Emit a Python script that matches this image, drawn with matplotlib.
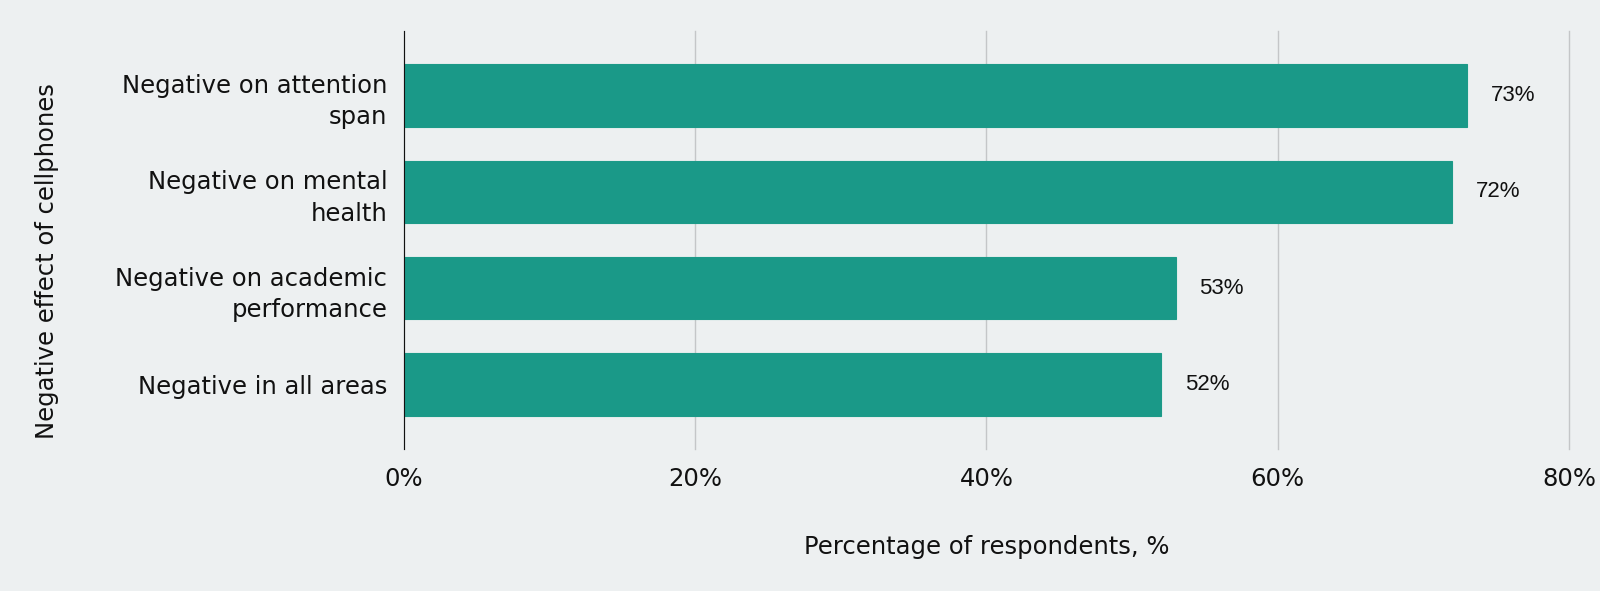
import numpy as np
import matplotlib.pyplot as plt

categories = ['Negative on attention\nspan', 'Negative on mental\nhealth',
              'Negative on academic\nperformance', 'Negative in all areas']
values = [73, 72, 53, 52]
xticks = [0, 20, 40, 60, 80]
xtick_labels = ['0%', '20%', '40%', '60%', '80%']

bg = '#edf0f1'
bar_color = '#1a9988'

fig = plt.figure(figsize=(16, 5.91), dpi=100, facecolor=bg)
ax = fig.add_axes([0.2525, 0.2403, 0.7281, 0.7072], facecolor=bg)

y = np.arange(len(categories))
ax.barh(y, values, height=0.65, color=bar_color, edgecolor='#1c9a88', linewidth=0.8, zorder=3)

for yi, v in zip(y, values):
    ax.annotate(f'{v}%', (v, yi), xytext=(17, 0), textcoords='offset points',
                va='center', ha='left', fontsize=16, family='Liberation Sans', color='#111111')

ax.set_xlim(0, 80)
ax.set_ylim(3.67, -0.67)
ax.set_yticks(y)
ax.set_yticklabels(categories, fontsize=17.5, color='#111111', linespacing=1.38)
ax.set_xticks(xticks)
ax.set_xticklabels(xtick_labels, fontsize=17.5, color='#111111')
ax.tick_params(axis='both', length=0)
ax.tick_params(axis='x', pad=13)
ax.tick_params(axis='y', pad=12)

ax.grid(axis='x', color='#c4c6c8', linewidth=1, zorder=0)
for gl in ax.get_xgridlines():
    gl.set_clip_on(False)
for s in ['top', 'right', 'bottom']:
    ax.spines[s].set_visible(False)
ax.spines['left'].set_color('#111111')
ax.spines['left'].set_zorder(4)

ax.set_xlabel('Percentage of respondents, %', fontsize=17.5, labelpad=32, color='#111111')
ax.set_ylabel('Negative effect of cellphones', fontsize=17.5, color='#111111')
ax.yaxis.set_label_coords(-0.296, 0.449)

fig.savefig('out.png', dpi=100, facecolor=bg)
